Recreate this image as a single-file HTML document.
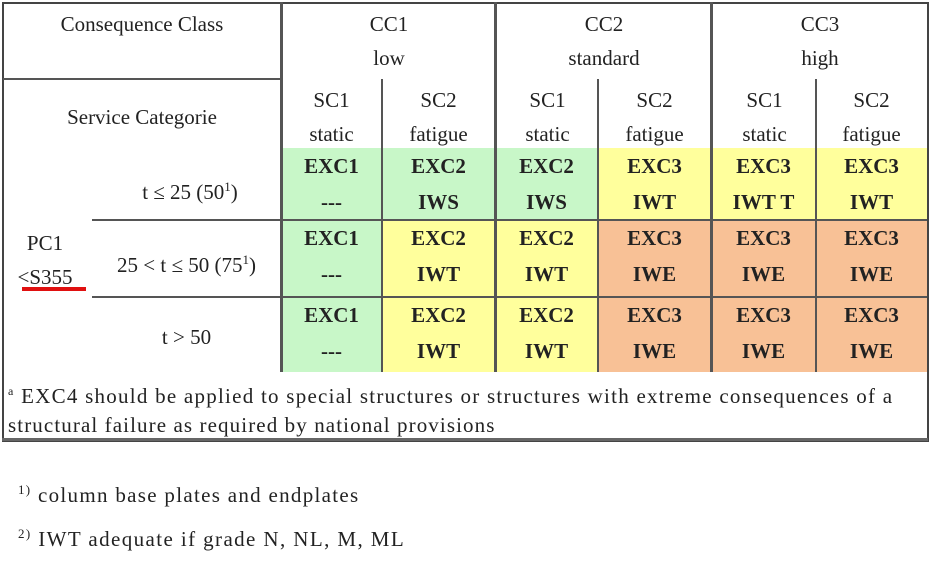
<!DOCTYPE html>
<html><head><meta charset="utf-8"><style>
body{margin:0;width:931px;height:563px;background:#fff;position:relative;overflow:hidden;font-family:"Liberation Serif","DejaVu Serif","Times New Roman",serif;color:#222}
.a{position:absolute}
.t{position:absolute;text-align:center;font-size:21px;line-height:34px}
.c{position:absolute;text-align:center;font-size:21px;font-weight:bold;line-height:36px;box-sizing:border-box;padding-top:0px}
.g{background:#c8f7c8}.y{background:#ffff9c}.o{background:#f8c196}
.l{position:absolute;background:#555}
</style></head><body>
<div class="c g" style="left:281px;top:148px;width:101px;height:72px">EXC1<br>---</div>
<div class="c g" style="left:382px;top:148px;width:113px;height:72px">EXC2<br>IWS</div>
<div class="c g" style="left:495px;top:148px;width:103px;height:72px">EXC2<br>IWS</div>
<div class="c y" style="left:598px;top:148px;width:113px;height:72px">EXC3<br>IWT</div>
<div class="c y" style="left:711px;top:148px;width:105px;height:72px">EXC3<br>IWT T</div>
<div class="c y" style="left:816px;top:148px;width:111px;height:72px">EXC3<br>IWT</div>

<div class="c g" style="left:281px;top:220px;width:101px;height:77px">EXC1<br>---</div>
<div class="c y" style="left:382px;top:220px;width:113px;height:77px">EXC2<br>IWT</div>
<div class="c y" style="left:495px;top:220px;width:103px;height:77px">EXC2<br>IWT</div>
<div class="c o" style="left:598px;top:220px;width:113px;height:77px">EXC3<br>IWE</div>
<div class="c o" style="left:711px;top:220px;width:105px;height:77px">EXC3<br>IWE</div>
<div class="c o" style="left:816px;top:220px;width:111px;height:77px">EXC3<br>IWE</div>

<div class="c g" style="left:281px;top:297px;width:101px;height:75px">EXC1<br>---</div>
<div class="c y" style="left:382px;top:297px;width:113px;height:75px">EXC2<br>IWT</div>
<div class="c y" style="left:495px;top:297px;width:103px;height:75px">EXC2<br>IWT</div>
<div class="c o" style="left:598px;top:297px;width:113px;height:75px">EXC3<br>IWE</div>
<div class="c o" style="left:711px;top:297px;width:105px;height:75px">EXC3<br>IWE</div>
<div class="c o" style="left:816px;top:297px;width:111px;height:75px">EXC3<br>IWE</div>

<div class="a" style="left:2px;top:2px;width:923px;height:436px;border:2px solid #444"></div>
<div class="l" style="left:280px;top:2px;width:3px;height:370px"></div>
<div class="l" style="left:494px;top:2px;width:3px;height:370px"></div>
<div class="l" style="left:710px;top:2px;width:3px;height:370px"></div>
<div class="l" style="left:381px;top:79px;width:2px;height:293px"></div>
<div class="l" style="left:597px;top:79px;width:2px;height:293px"></div>
<div class="l" style="left:815px;top:79px;width:2px;height:293px"></div>
<div class="l" style="left:3px;top:78px;width:278px;height:2px"></div>
<div class="l" style="left:92px;top:219px;width:835px;height:2px"></div>
<div class="l" style="left:92px;top:296px;width:835px;height:2px"></div>
<div class="l" style="left:2px;top:438px;width:926px;height:3px;background:#666"></div>

<div class="t" style="left:3px;top:7px;width:278px">Consequence Class</div>
<div class="t" style="left:3px;top:100px;width:278px">Service Categorie</div>
<div class="t" style="left:283px;top:7px;width:212px">CC1<br>low</div>
<div class="t" style="left:497px;top:7px;width:214px">CC2<br>standard</div>
<div class="t" style="left:713px;top:7px;width:214px">CC3<br>high</div>
<div class="t" style="left:281px;top:83px;width:101px">SC1<br>static</div>
<div class="t" style="left:382px;top:83px;width:113px">SC2<br>fatigue</div>
<div class="t" style="left:497px;top:83px;width:101px">SC1<br>static</div>
<div class="t" style="left:598px;top:83px;width:113px">SC2<br>fatigue</div>
<div class="t" style="left:713px;top:83px;width:103px">SC1<br>static</div>
<div class="t" style="left:816px;top:83px;width:111px">SC2<br>fatigue</div>

<div class="t" style="left:100px;top:170px;width:180px">t ≤ 25 (50<sup style="font-size:13px">1</sup>)</div>
<div class="t" style="left:92px;top:243px;width:189px">25 &lt; t ≤ 50 (75<sup style="font-size:13px">1</sup>)</div>
<div class="t" style="left:92px;top:320px;width:189px">t &gt; 50</div>
<div class="t" style="left:10px;top:226px;width:70px">PC1</div>
<div class="t" style="left:10px;top:260px;width:70px">&lt;S355</div>
<div class="a" style="left:22px;top:287px;width:64px;height:4px;background:#e01010"></div>

<div class="a" style="left:8px;top:377px;font-size:21px;line-height:29px;white-space:nowrap"><span style="letter-spacing:1.25px"><sup style="font-size:12px">a</sup> EXC4 should be applied to special structures or structures with extreme consequences of a</span><br><span style="letter-spacing:1.1px">structural failure as required by national provisions</span></div>

<div class="a" style="left:18px;top:482px;font-size:21px;letter-spacing:1.3px"><sup style="font-size:13px">1)</sup> column base plates and endplates</div>
<div class="a" style="left:18px;top:526px;font-size:21px;letter-spacing:1.4px"><sup style="font-size:13px">2)</sup> IWT adequate if grade N, NL, M, ML</div>
</body></html>
